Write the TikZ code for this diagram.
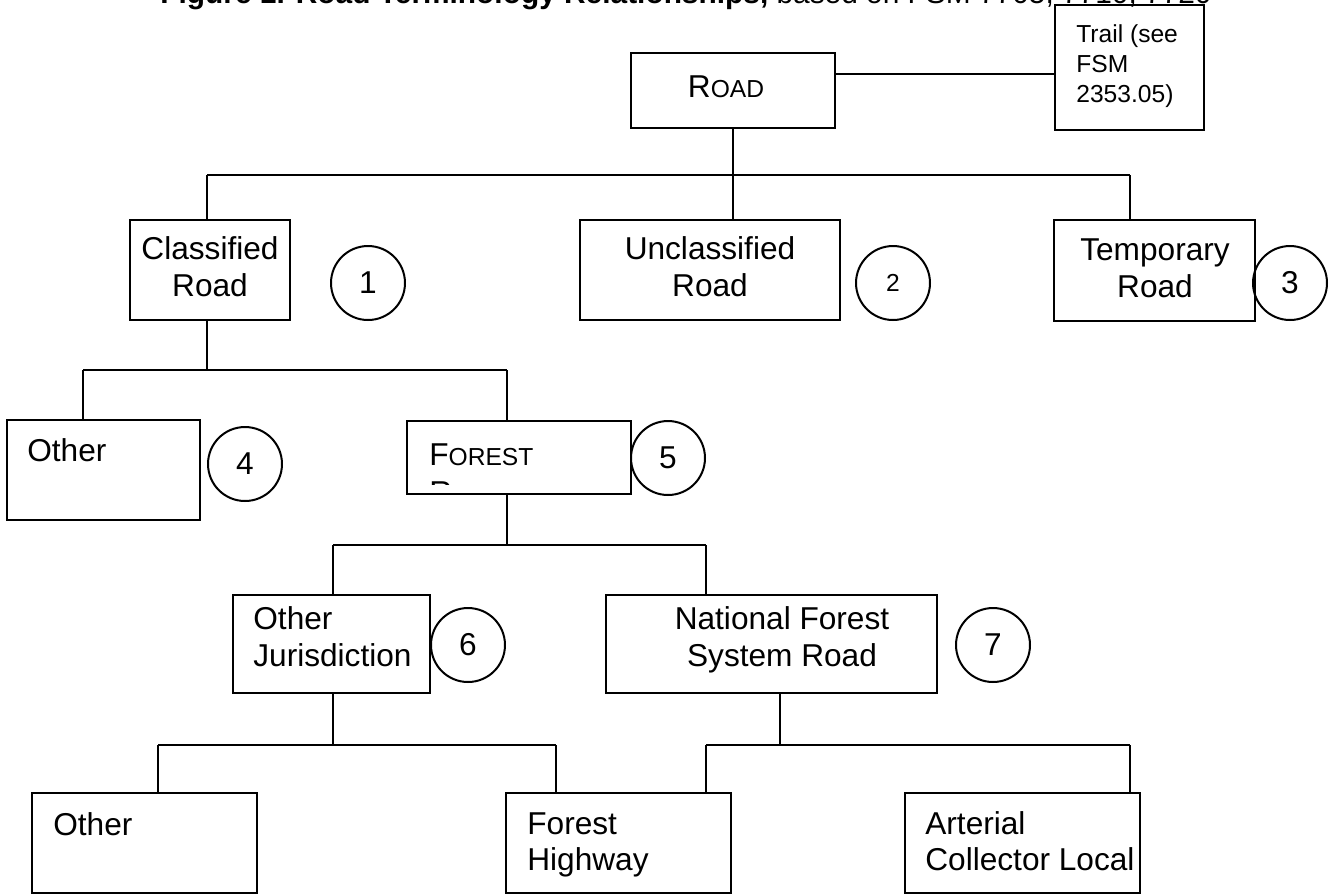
\documentclass[tikz,border=0pt]{standalone}
\usepackage{fontspec}
\setmainfont{Liberation Sans}

\tikzset{
  box/.style={draw, line width=0.04cm, inner sep=0pt},
  lbl/.style={inner sep=0pt, font=\fontsize{18}{20.5}\selectfont},
  num/.style={draw, circle, line width=0.04cm, minimum size=1.48cm, inner sep=0pt,
              font=\fontsize{18}{20.5}\selectfont},
  lnk/.style={line width=0.04cm},
}
\newcommand{\smc}[1]{{\fontsize{14}{16}\selectfont #1}}

\begin{document}
\begin{tikzpicture}[x=0.02cm, y=-0.02cm]
\useasboundingbox (0,0) rectangle (1329,894);

% Title, cut by the top of the page
\begin{scope}
\clip (0,0) rectangle (1329,894);
\node [lbl, anchor=base west, font=\fontsize{17}{20}\selectfont] (title) at (160,3)
  {\textbf{Figure 1. Road Terminology Relationships,} based on FSM 7705, 7710, 7720};
\end{scope}

% Drawing the boxes
\node [box, minimum width=4.08cm, minimum height=1.50cm] (road)   at (733.0,90.5)  {};
\node [box, minimum width=2.98cm, minimum height=2.50cm] (trail)  at (1129.5,67.5) {};
\node [box, minimum width=3.20cm, minimum height=2.00cm] (cls)    at (210.0,270.0) {};
\node [box, minimum width=5.20cm, minimum height=2.00cm] (uncls)  at (710.0,270.0) {};
\node [box, minimum width=4.02cm, minimum height=2.02cm] (tmp)    at (1154.5,270.5) {};
\node [box, minimum width=3.86cm, minimum height=2.00cm] (oth)    at (103.5,470.0) {};
\node [box, minimum width=4.48cm, minimum height=1.46cm] (forest) at (519.0,457.5) {};
\node [box, minimum width=3.94cm, minimum height=1.96cm] (ojur)   at (331.5,644.0) {};
\node [box, minimum width=6.62cm, minimum height=1.96cm] (nfsr)   at (771.5,644.0) {};
\node [box, minimum width=4.50cm, minimum height=2.00cm] (othb)   at (144.5,843.0) {};
\node [box, minimum width=4.50cm, minimum height=2.00cm] (fhwy)   at (618.5,843.0) {};
\node [box, minimum width=4.70cm, minimum height=2.00cm] (art)    at (1022.5,843.0) {};

% Texts in the boxes (base of a two line text is its last line)
\node [lbl, anchor=base] (road-t) at (726,97) {R\smc{OAD}};
\node [lbl, anchor=base west, align=left, font=\fontsize{14}{17}\selectfont] (trail-t) at (1076,102)
  {Trail (see\\FSM\\2353.05)};
\node [lbl, anchor=base, align=center] (cls-t) at (210,296) {Classified\\Road};
\node [lbl, anchor=base, align=center] (uncls-t) at (710,296) {Unclassified\\Road};
\node [lbl, anchor=base, align=center] (tmp-t) at (1155,297) {Temporary\\Road};
\node [lbl, anchor=base west] (oth-t) at (27,461) {Other};
\node [lbl, anchor=base west] (forest-t) at (429,465) {F\smc{OREST}};
\begin{scope}
\clip (407,421) rectangle (631,484);
\node [lbl, anchor=base west] (forest-t2) at (429,503) {R\smc{OAD}};
\end{scope}
\node [lbl, anchor=base west, align=left] (ojur-t) at (253,666) {Other\\Jurisdiction};
\node [lbl, anchor=base, align=center] (nfsr-t) at (782,666) {National Forest\\System Road};
\node [lbl, anchor=base west] (othb-t) at (53,835) {Other};
\node [lbl, anchor=base west, align=left] (fhwy-t) at (527,870) {Forest\\Highway};
\node [lbl, anchor=base west, align=left] (art-t) at (925,870) {Arterial\\Collector Local};

% Marking the numbers by circles
\node [num] (n1) at (368,283) {1};
\node [num, font=\fontsize{14}{16}\selectfont] (n2) at (893,283) {2};
\node [num] (n3) at (1290,283) {3};
\node [num] (n4) at (245,464) {4};
\node [num] (n5) at (668,458) {5};
\node [num] (n6) at (468,645) {6};
\node [num] (n7) at (993,645) {7};

% Drawing line Road Trail
\coordinate (rt) at (835,74);
\draw [lnk] (rt) -- (rt -| trail.west);

% Drawing lines Road to first level
\coordinate (j1) at (733,175);
\coordinate (j1l) at (207,175);
\coordinate (j1r) at (1130,175);
\draw [lnk] (road.south) -- (j1);
\draw [lnk] (j1l) -- (j1r);
\draw [lnk] (j1l) -- (j1l |- cls.north);
\draw [lnk] (j1) -- (j1 |- uncls.north);
\draw [lnk] (j1r) -- (j1r |- tmp.north);

% Drawing lines Classified to second level
\coordinate (j2) at (207,370);
\coordinate (j2l) at (83,370);
\coordinate (j2r) at (507,370);
\draw [lnk] (j2 |- cls.south) -- (j2);
\draw [lnk] (j2l) -- (j2r);
\draw [lnk] (j2l) -- (j2l |- oth.north);
\draw [lnk] (j2r) -- (j2r |- forest.north);

% Drawing lines Forest to third level
\coordinate (j3) at (507,545);
\coordinate (j3l) at (333,545);
\coordinate (j3r) at (706,545);
\draw [lnk] (j3 |- forest.south) -- (j3);
\draw [lnk] (j3l) -- (j3r);
\draw [lnk] (j3l) -- (j3l |- ojur.north);
\draw [lnk] (j3r) -- (j3r |- nfsr.north);

% Drawing lines Other Jurisdiction to fourth level
\coordinate (j4) at (333,745);
\coordinate (j4l) at (158,745);
\coordinate (j4r) at (556,745);
\draw [lnk] (j4 |- ojur.south) -- (j4);
\draw [lnk] (j4l) -- (j4r);
\draw [lnk] (j4l) -- (j4l |- othb.north);
\draw [lnk] (j4r) -- (j4r |- fhwy.north);

% Drawing lines National Forest System Road to fourth level
\coordinate (j5) at (780,745);
\coordinate (j5l) at (706,745);
\coordinate (j5r) at (1130,745);
\draw [lnk] (j5 |- nfsr.south) -- (j5);
\draw [lnk] (j5l) -- (j5r);
\draw [lnk] (j5l) -- (j5l |- fhwy.north);
\draw [lnk] (j5r) -- (j5r |- art.north);
\end{tikzpicture}
\end{document}
